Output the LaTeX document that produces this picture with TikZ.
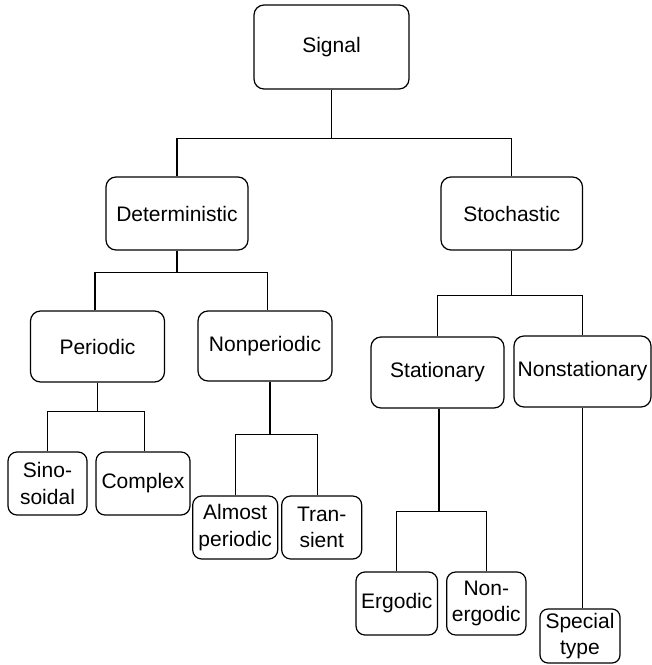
\documentclass[tikz,border=0pt]{standalone}
\usepackage{fontspec}
\setmainfont{Liberation Sans}
\begin{document}
\begin{tikzpicture}[x=1pt,y=-1pt,
  box/.style={draw=black,line width=1.2pt,rounded corners=10pt,inner sep=0pt,align=center,
    font=\fontsize{21}{26.5}\selectfont},
  link/.style={draw=black,line width=1.2pt}]
\useasboundingbox (0,0) rectangle (652,665);
\node[box,minimum width=155,minimum height=84] (sig) at (331.5,47) {Signal};
\node[box,minimum width=142,minimum height=73] (det) at (177,213.5) {Deterministic};
\node[box,minimum width=141.5,minimum height=73] (sto) at (511.75,213.5) {Stochastic};
\node[box,minimum width=134,minimum height=71] (per) at (97.5,346.5) {Periodic};
\node[box,minimum width=134,minimum height=70] (non) at (265,346) {Nonperiodic};
\node[box,minimum width=133,minimum height=71] (sta) at (437.5,372.5) {Stationary};
\node[box,minimum width=137,minimum height=71] (nst) at (582.5,371.5) {Nonstationary};
\node[box,minimum width=79,minimum height=63,rounded corners=9pt] (sin) at (47.5,483.5) {Sino-\\soidal};
\node[box,minimum width=94,minimum height=63,rounded corners=9pt] (com) at (143,483.5) {Complex};
\node[box,minimum width=85,minimum height=63,rounded corners=9pt] (alm) at (235.2,527.5) {Almost\\periodic};
\node[box,minimum width=80,minimum height=63,rounded corners=9pt] (tra) at (321.7,527.5) {Tran-\\sient};
\node[box,minimum width=81.5,minimum height=63,rounded corners=9pt] (erg) at (396.75,603.5) {Ergodic};
\node[box,minimum width=79.3,minimum height=63,rounded corners=9pt] (nerg) at (486.3,603.5) {Non-\\ergodic};
\node[box,minimum width=80,minimum height=54,rounded corners=8pt] (spe) at (580,636) {Special\\type};
% connectors
\coordinate (j1) at ([yshift=-49]sig.south);
\draw[link] (sig.south) -- (j1);
\draw[link] (det.north) |- (j1) -| (sto.north);
\coordinate (j2) at ([yshift=-22]det.south);
\draw[link] (det.south) -- (j2);
\draw[link] ([xshift=-2.5]per.north) |- (j2) -| ([xshift=2.5]non.north);
\coordinate (j3) at ([yshift=-45]sto.south);
\draw[link] (sto.south) -- (j3);
\draw[link] (sta.north) |- (j3) -| (nst.north);
\coordinate (j4) at ([yshift=-29]per.south);
\draw[link] (per.south) -- (j4);
\draw[link] (sin.north) |- (j4) -| ([xshift=1.5]com.north);
\coordinate (j5) at ([xshift=5,yshift=-53]non.south);
\draw[link] ([xshift=5]non.south) -- (j5);
\draw[link] (alm.north) |- (j5) -| ([xshift=-4.5]tra.north);
\coordinate (j6) at ([xshift=1.5,yshift=-103]sta.south);
\draw[link] ([xshift=1.5]sta.south) -- (j6);
\draw[link] (erg.north) |- (j6) -| (nerg.north);
\draw[link] (nst.south) -- (nst.south |- spe.north);
\end{tikzpicture}
\end{document}
